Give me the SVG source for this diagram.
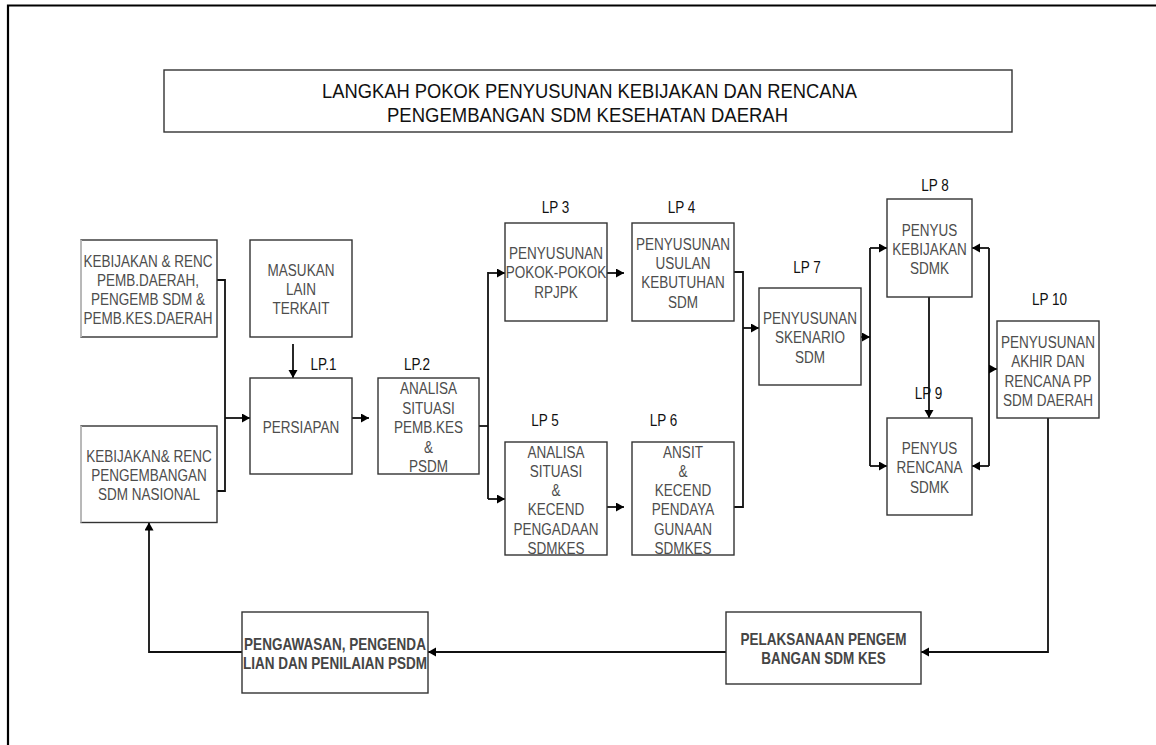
<svg xmlns="http://www.w3.org/2000/svg" width="1156" height="745" viewBox="0 0 1156 745">
<style>
.box{fill:#fff;stroke:#333;stroke-width:1.4}
.t{font-family:"Liberation Sans",Arial,sans-serif;font-size:16.5px;fill:#4d4d4d;text-anchor:middle}
.b{font-weight:bold;fill:#454545}
.ti{font-family:"Liberation Sans",Arial,sans-serif;font-size:20px;fill:#111;text-anchor:middle}
.c{stroke:#111;stroke-width:1.8;fill:none}
.a{marker-end:url(#ah)}
.frame{stroke:#000;stroke-width:2.2;fill:none}
</style>
<defs>
<marker id="ah" markerUnits="userSpaceOnUse" markerWidth="10" markerHeight="10" refX="8" refY="4.5" orient="auto">
<path d="M0,0 L8,4.5 L0,9 z" fill="#000"/>
</marker>
</defs>
<rect width="1156" height="745" fill="#fff"/>
<path class="frame" d="M8,745 L8,5.5 L1156,5.5"/>

<g id="title">
<rect class="box" x="164" y="70" width="848" height="62"/>
<text class="ti" x="589.5" y="97.7" textLength="535" lengthAdjust="spacingAndGlyphs">LANGKAH POKOK PENYUSUNAN KEBIJAKAN DAN RENCANA</text>
<text class="ti" x="587.5" y="121.7" textLength="401" lengthAdjust="spacingAndGlyphs">PENGEMBANGAN SDM KESEHATAN DAERAH</text>
</g>

<g id="connectors">
<path class="c" d="M217,280 H225 V491 H217"/>
<path class="c a" d="M225,418 H250"/>
<path class="c a" d="M293,344 V378"/>
<path class="c a" d="M352,418 H369"/>
<path class="c" d="M479,426 H488"/>
<path class="c" d="M488,272 V499"/>
<path class="c a" d="M488,273 H505"/>
<path class="c a" d="M488,499 H505"/>
<path class="c a" d="M607,273 H624"/>
<path class="c a" d="M607,507 H624"/>
<path class="c" d="M734,272 H743 V507 H734"/>
<path class="c a" d="M743,328 H759"/>
<path class="c a" d="M861,337 H870"/>
<path class="c" d="M870,248 V466"/>
<path class="c a" d="M870,248 H887"/>
<path class="c a" d="M870,466 H887"/>
<path class="c a" d="M929,297 V418"/>
<path class="c" d="M989,248 V466"/>
<path class="c a" d="M989,248 H972"/>
<path class="c a" d="M989,466 H972"/>
<path class="c a" d="M989,369 H997"/>
<path class="c a" d="M1048,418 V652 H921"/>
<path class="c a" d="M726,652 H428"/>
<path class="c a" d="M242,652 H149 V522.5"/>
</g>

<g id="keb-daerah">
<rect class="box" x="81" y="240" width="136" height="97"/>
<line x1="81" y1="240" x2="81" y2="337" stroke="#ccc" stroke-width="1.6"/>
<g transform="translate(148 0) scale(0.82 1)"><text class="t" x="0" y="267">KEBIJAKAN &amp; RENC<tspan x="0" y="286">PEMB.DAERAH,</tspan><tspan x="0" y="305">PENGEMB SDM &amp;</tspan><tspan x="0" y="324">PEMB.KES.DAERAH</tspan></text></g>
</g>

<g id="keb-nasional">
<rect class="box" x="81" y="426" width="136" height="96.5"/>
<line x1="81" y1="426" x2="81" y2="522.5" stroke="#ccc" stroke-width="1.6"/>
<g transform="translate(149 0) scale(0.82 1)"><text class="t" x="0" y="462">KEBIJAKAN&amp; RENC<tspan x="0" y="481">PENGEMBANGAN</tspan><tspan x="0" y="500">SDM NASIONAL</tspan></text></g>
</g>

<g id="masukan">
<rect class="box" x="250" y="240" width="102" height="97"/>
<g transform="translate(301 0) scale(0.82 1)"><text class="t" x="0" y="276">MASUKAN<tspan x="0" y="295">LAIN</tspan><tspan x="0" y="314">TERKAIT</tspan></text></g>
</g>

<g id="lp1">
<g transform="translate(323.5 0) scale(0.82 1)"><text class="t" x="0" y="370" style="fill:#111">LP.1</text></g>
<rect class="box" x="250" y="378" width="102" height="96"/>
<g transform="translate(301 0) scale(0.82 1)"><text class="t" x="0" y="433">PERSIAPAN</text></g>
</g>

<g id="lp2">
<g transform="translate(417 0) scale(0.82 1)"><text class="t" x="0" y="370" style="fill:#111">LP.2</text></g>
<rect class="box" x="378" y="378" width="101" height="96"/>
<g transform="translate(428.5 0) scale(0.82 1)"><text class="t" x="0" y="394">ANALISA<tspan x="0" y="414">SITUASI</tspan><tspan x="0" y="433">PEMB.KES</tspan><tspan x="0" y="453">&amp;</tspan><tspan x="0" y="472">PSDM</tspan></text></g>
</g>

<g id="lp3">
<g transform="translate(555.5 0) scale(0.82 1)"><text class="t" x="0" y="213" style="fill:#111">LP 3</text></g>
<rect class="box" x="505" y="223" width="102" height="98"/>
<g transform="translate(556 0) scale(0.82 1)"><text class="t" x="0" y="259">PENYUSUNAN<tspan x="0" y="278">POKOK-POKOK</tspan><tspan x="0" y="298">RPJPK</tspan></text></g>
</g>

<g id="lp4">
<g transform="translate(681.5 0) scale(0.82 1)"><text class="t" x="0" y="213" style="fill:#111">LP 4</text></g>
<rect class="box" x="632" y="223" width="102" height="98"/>
<g transform="translate(683 0) scale(0.82 1)"><text class="t" x="0" y="250">PENYUSUNAN<tspan x="0" y="269">USULAN</tspan><tspan x="0" y="288">KEBUTUHAN</tspan><tspan x="0" y="308">SDM</tspan></text></g>
</g>

<g id="lp5">
<g transform="translate(545 0) scale(0.82 1)"><text class="t" x="0" y="426" style="fill:#111">LP 5</text></g>
<rect class="box" x="505" y="442" width="102" height="113"/>
<g transform="translate(556 0) scale(0.82 1)"><text class="t" x="0" y="458">ANALISA<tspan x="0" y="477">SITUASI</tspan><tspan x="0" y="496">&amp;</tspan><tspan x="0" y="515">KECEND</tspan><tspan x="0" y="535">PENGADAAN</tspan><tspan x="0" y="554">SDMKES</tspan></text></g>
</g>

<g id="lp6">
<g transform="translate(663.5 0) scale(0.82 1)"><text class="t" x="0" y="426" style="fill:#111">LP 6</text></g>
<rect class="box" x="632" y="442" width="102" height="113"/>
<g transform="translate(683 0) scale(0.82 1)"><text class="t" x="0" y="458">ANSIT<tspan x="0" y="477">&amp;</tspan><tspan x="0" y="496">KECEND</tspan><tspan x="0" y="515">PENDAYA</tspan><tspan x="0" y="535">GUNAAN</tspan><tspan x="0" y="554">SDMKES</tspan></text></g>
</g>

<g id="lp7">
<g transform="translate(807 0) scale(0.82 1)"><text class="t" x="0" y="273" style="fill:#111">LP 7</text></g>
<rect class="box" x="759" y="288" width="102" height="97"/>
<g transform="translate(810 0) scale(0.82 1)"><text class="t" x="0" y="324">PENYUSUNAN<tspan x="0" y="343">SKENARIO</tspan><tspan x="0" y="363">SDM</tspan></text></g>
</g>

<g id="lp8">
<g transform="translate(935 0) scale(0.82 1)"><text class="t" x="0" y="191" style="fill:#111">LP 8</text></g>
<rect class="box" x="887" y="199" width="85" height="98"/>
<g transform="translate(929.5 0) scale(0.82 1)"><text class="t" x="0" y="236">PENYUS<tspan x="0" y="255">KEBIJAKAN</tspan><tspan x="0" y="274">SDMK</tspan></text></g>
</g>

<g id="lp9">
<g transform="translate(928.5 0) scale(0.82 1)"><text class="t" x="0" y="399" style="fill:#111">LP 9</text></g>
<rect class="box" x="887" y="418" width="85" height="97"/>
<g transform="translate(929.5 0) scale(0.82 1)"><text class="t" x="0" y="454">PENYUS<tspan x="0" y="473">RENCANA</tspan><tspan x="0" y="493">SDMK</tspan></text></g>
</g>

<g id="lp10">
<g transform="translate(1049.5 0) scale(0.82 1)"><text class="t" x="0" y="305" style="fill:#111">LP 10</text></g>
<rect class="box" x="997" y="321" width="102" height="97"/>
<g transform="translate(1048 0) scale(0.82 1)"><text class="t" x="0" y="348">PENYUSUNAN<tspan x="0" y="367">AKHIR DAN</tspan><tspan x="0" y="387">RENCANA PP</tspan><tspan x="0" y="406">SDM DAERAH</tspan></text></g>
</g>

<g id="pelaksanaan">
<rect class="box" x="726" y="612" width="195" height="72"/>
<g transform="translate(823.5 0) scale(0.82 1)"><text class="t b" x="0" y="645">PELAKSANAAN PENGEM<tspan x="0" y="664">BANGAN SDM KES</tspan></text></g>
</g>

<g id="pengawasan">
<rect class="box" x="242" y="612" width="186" height="81"/>
<g transform="translate(335 0) scale(0.82 1)"><text class="t b" x="0" y="650">PENGAWASAN, PENGENDA<tspan x="0" y="669">LIAN DAN PENILAIAN PSDM</tspan></text></g>
</g>
</svg>
